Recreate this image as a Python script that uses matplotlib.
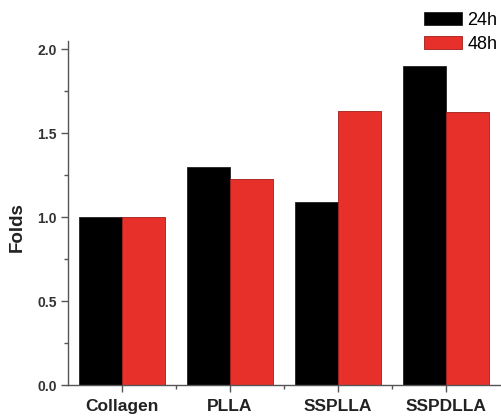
import matplotlib
matplotlib.use("Agg")
import matplotlib.pyplot as plt
import numpy as np
from matplotlib.patches import Patch

categories = ["Collagen", "PLLA", "SSPLLA", "SSPDLLA"]
vals_24h = [1.00, 1.30, 1.09, 1.90]
vals_48h = [1.00, 1.225, 1.635, 1.625]
series_labels = ["24h", "48h"]
yticks = [0.0, 0.5, 1.0, 1.5, 2.0]
ytick_labels = ["0.0", "0.5", "1.0", "1.5", "2.0"]

plt.rcParams['font.family'] = ['Liberation Sans', 'DejaVu Sans']

fig = plt.figure(figsize=(5.01, 4.19), dpi=100)
ax = fig.add_axes([68/501, 34/419, 432/501, 344/419])

x = np.arange(len(categories))
w = 0.4
black = "#000000"
red = "#e8302a"
ax.bar(x - w/2, vals_24h, w, color=black, edgecolor="#222222", linewidth=0.6)
ax.bar(x + w/2, vals_48h, w, color=red, edgecolor="#a01c18", linewidth=0.6)

ax.set_xlim(-0.5, 3.5)
ax.set_ylim(0, 2.05)
ax.set_yticks(yticks)
ax.set_yticklabels(ytick_labels, fontsize=10, fontweight='bold', color="#333333")
ax.set_yticks([0.25, 0.75, 1.25, 1.75], minor=True)
ax.set_xticks(x)
ax.set_xticklabels(categories, fontsize=12.5, fontweight='bold', color="#222222")
ax.set_xticks([0.5, 1.5, 2.5], minor=True)

for s in ['top', 'right']:
    ax.spines[s].set_visible(False)
for s in ['left', 'bottom']:
    ax.spines[s].set_color("#555555")
    ax.spines[s].set_linewidth(1.0)

ax.tick_params(axis='both', which='major', direction='out', length=5, width=1.0, color="#555555")
ax.tick_params(axis='both', which='minor', direction='out', length=3, width=1.0, color="#555555")
ax.tick_params(axis='x', which='major', pad=5)
ax.tick_params(axis='y', which='major', pad=3)

ax.set_ylabel("Folds", fontsize=13.5, fontweight='bold', color="#222222")
ax.yaxis.set_label_coords(-0.097, 0.46)

handles = [Patch(facecolor=black, edgecolor="#222222", linewidth=0.6),
           Patch(facecolor=red, edgecolor="#a01c18", linewidth=0.6)]
fig.legend(handles, series_labels, loc='upper right', bbox_to_anchor=(1.0, 1.0 - 8/419),
           frameon=False, fontsize=13, handlelength=2.1, handleheight=0.8,
           handletextpad=0.3, labelspacing=0.38, borderpad=0.2, borderaxespad=0.0)

fig.savefig("out.png", dpi=100)
